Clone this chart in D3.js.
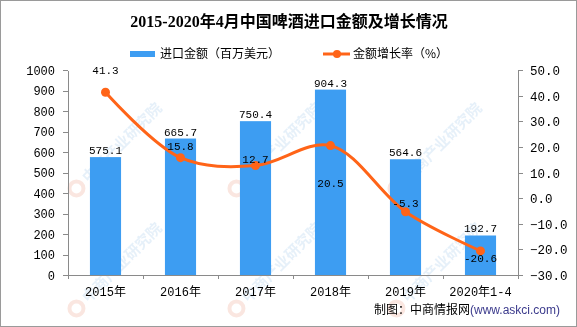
<!DOCTYPE html>
<html><head><meta charset="utf-8">
<script src="https://cdn.jsdelivr.net/npm/d3@7"></script>
<style>
html,body{margin:0;padding:0;background:#fff;}
svg{display:block;}
</style></head>
<body>
<svg id="chart" width="577" height="327"></svg>
<script>
// ---- data ----
const categories = ["2015年","2016年","2017年","2018年","2019年","2020年1-4"];
const importValue = [575.1, 665.7, 750.4, 904.3, 564.6, 192.7];   // 百万美元
const growthRate  = [41.3, 15.8, 12.7, 20.5, -5.3, -20.6];        // %
const leftTicks  = [0,100,200,300,400,500,600,700,800,900,1000];
const rightTicks = [-30,-20,-10,0,10,20,30,40,50];
const titleText = "2015-2020年4月中国啤酒进口金额及增长情况";
const legendBar = "进口金额（百万美元）";
const legendLine = "金额增长率（%）";
const sourceMain = "制图：中商情报网";
const sourceUrl = "(www.askci.com)";
const watermarkText = "中商产业研究院";

// ---- style (not data) ----
const lineLabelDy = [-22, -12, -7, 37, -9, 7];
const BAR = "#3d9df2", LINE = "#ff6418", AXIS = "#8a8a8a";
const MONO = "'Liberation Mono','Noto Sans CJK SC',monospace";
const CJK = "'Noto Sans CJK SC','Liberation Sans',sans-serif";

const svg = d3.select("#chart");
const W = 577, H = 327;
const pLeft = 68, pRight = 518, pTop = 70, pBottom = 275;

// watermark (faint, only where it fits inside the picture)
const wm = svg.append("g").attr("opacity", 0.6);
[[80,192],[240,192],[400,192],[80,312],[240,312],[400,312]].forEach(([cx, cy]) => {
  const g = wm.append("g").attr("transform", `translate(${cx},${cy}) rotate(-45)`);
  g.append("circle").attr("cx", 0).attr("cy", -5).attr("r", 7)
    .attr("fill", "none").attr("stroke", "#f7d6cc").attr("stroke-width", 4);
  g.append("text").attr("x", 12).attr("y", 0).text(watermarkText)
    .attr("font-family", CJK).attr("font-weight", "bold").attr("font-size", 15)
    .attr("fill", "#d6e7f6");
});

// border
svg.append("rect").attr("x", 0.5).attr("y", 0.5).attr("width", W - 1).attr("height", H - 1)
  .attr("fill", "none").attr("stroke", "#9a9a9a");

const x = d3.scaleBand().domain(categories).range([pLeft, pRight]).padding(0);
const yL = d3.scaleLinear().domain([0, 1000]).range([pBottom, pTop]);
const yR = d3.scaleLinear().domain([-30, 50]).range([pBottom, pTop]);
const bw = x.bandwidth() * 0.415;
const cxOf = c => x(c) + x.bandwidth() / 2;

// bars
svg.append("g").selectAll("rect").data(categories).join("rect")
  .attr("x", c => cxOf(c) - bw / 2)
  .attr("y", (c, i) => yL(importValue[i]))
  .attr("width", bw)
  .attr("height", (c, i) => yL(0) - yL(importValue[i]))
  .attr("fill", BAR);

// axes
function styleAxis(g) {
  g.selectAll("path,line").attr("stroke", AXIS).attr("shape-rendering", "crispEdges");
  g.selectAll("text").attr("fill", "#000");
}
const gl = svg.append("g").attr("transform", `translate(${pLeft},0)`)
  .call(d3.axisLeft(yL).tickValues(leftTicks).tickFormat(d3.format("d")).tickSize(5).tickSizeOuter(0).tickPadding(8))
  .call(styleAxis);
gl.selectAll("text").attr("font-family", MONO).attr("font-size", 12).attr("dy", "0.36em");

const gr = svg.append("g").attr("transform", `translate(${pRight},0)`)
  .call(d3.axisRight(yR).tickValues(rightTicks).tickFormat(d3.format(".1f")).tickSize(5).tickSizeOuter(0).tickPadding(7))
  .call(styleAxis);
gr.selectAll("text").attr("font-family", MONO).attr("font-size", 12.5).attr("dy", "0.36em");

const gb = svg.append("g").attr("transform", `translate(0,${pBottom})`)
  .call(d3.axisBottom(x).tickSize(0).tickSizeOuter(0).tickPadding(12))
  .call(styleAxis);
gb.selectAll("text").attr("font-family", MONO).attr("font-size", 12);
gb.selectAll(".sep").data(d3.range(categories.length + 1)).join("line")
  .attr("class", "sep")
  .attr("x1", i => pLeft + i * x.step()).attr("x2", i => pLeft + i * x.step())
  .attr("y1", 0).attr("y2", 4)
  .attr("stroke", AXIS).attr("shape-rendering", "crispEdges");

// line
const line = d3.line()
  .x((d, i) => cxOf(categories[i]))
  .y(d => yR(d))
  .curve(d3.curveCatmullRom.alpha(0.5));
svg.append("path").datum(growthRate).attr("d", line)
  .attr("fill", "none").attr("stroke", LINE).attr("stroke-width", 3);
svg.append("g").selectAll("circle").data(growthRate).join("circle")
  .attr("cx", (d, i) => cxOf(categories[i])).attr("cy", d => yR(d)).attr("r", 4.5)
  .attr("fill", LINE);

// bar labels
svg.append("g").selectAll("text").data(importValue).join("text")
  .attr("x", (d, i) => cxOf(categories[i]))
  .attr("y", d => yL(d) - 3)
  .attr("text-anchor", "middle")
  .attr("font-family", MONO).attr("font-size", 11).attr("fill", "#000")
  .text(d => d.toFixed(1));

// line labels
svg.append("g").selectAll("text").data(growthRate).join("text")
  .attr("x", (d, i) => cxOf(categories[i]))
  .attr("y", (d, i) => yR(d) + lineLabelDy[i])
  .attr("dy", "0.36em")
  .attr("text-anchor", "middle")
  .attr("font-family", MONO).attr("font-size", 11).attr("fill", "#000")
  .text(d => d.toFixed(1));

// title
svg.append("text").attr("x", 289).attr("y", 27).attr("text-anchor", "middle")
  .attr("font-family", "'Liberation Serif','Noto Sans CJK SC',serif")
  .attr("font-weight", "bold").attr("font-size", 16).attr("fill", "#000")
  .text(titleText);

// legend
svg.append("rect").attr("x", 130).attr("y", 51).attr("width", 25).attr("height", 6).attr("fill", BAR);
svg.append("text").attr("x", 160).attr("y", 58).text(legendBar)
  .attr("font-family", CJK).attr("font-size", 12).attr("fill", "#000");
svg.append("line").attr("x1", 323).attr("x2", 350).attr("y1", 54).attr("y2", 54)
  .attr("stroke", LINE).attr("stroke-width", 3);
svg.append("circle").attr("cx", 337).attr("cy", 54).attr("r", 4).attr("fill", LINE);
svg.append("text").attr("x", 353).attr("y", 58).text(legendLine)
  .attr("font-family", CJK).attr("font-size", 12).attr("fill", "#000");

// source
const src = svg.append("text").attr("x", 560).attr("y", 314).attr("text-anchor", "end")
  .attr("font-size", 12);
src.append("tspan").attr("font-family", CJK).attr("fill", "#000").text(sourceMain);
src.append("tspan").attr("font-family", "'Liberation Sans',sans-serif").attr("fill", "#3b3a8c").text(sourceUrl);
</script>
</body></html>
